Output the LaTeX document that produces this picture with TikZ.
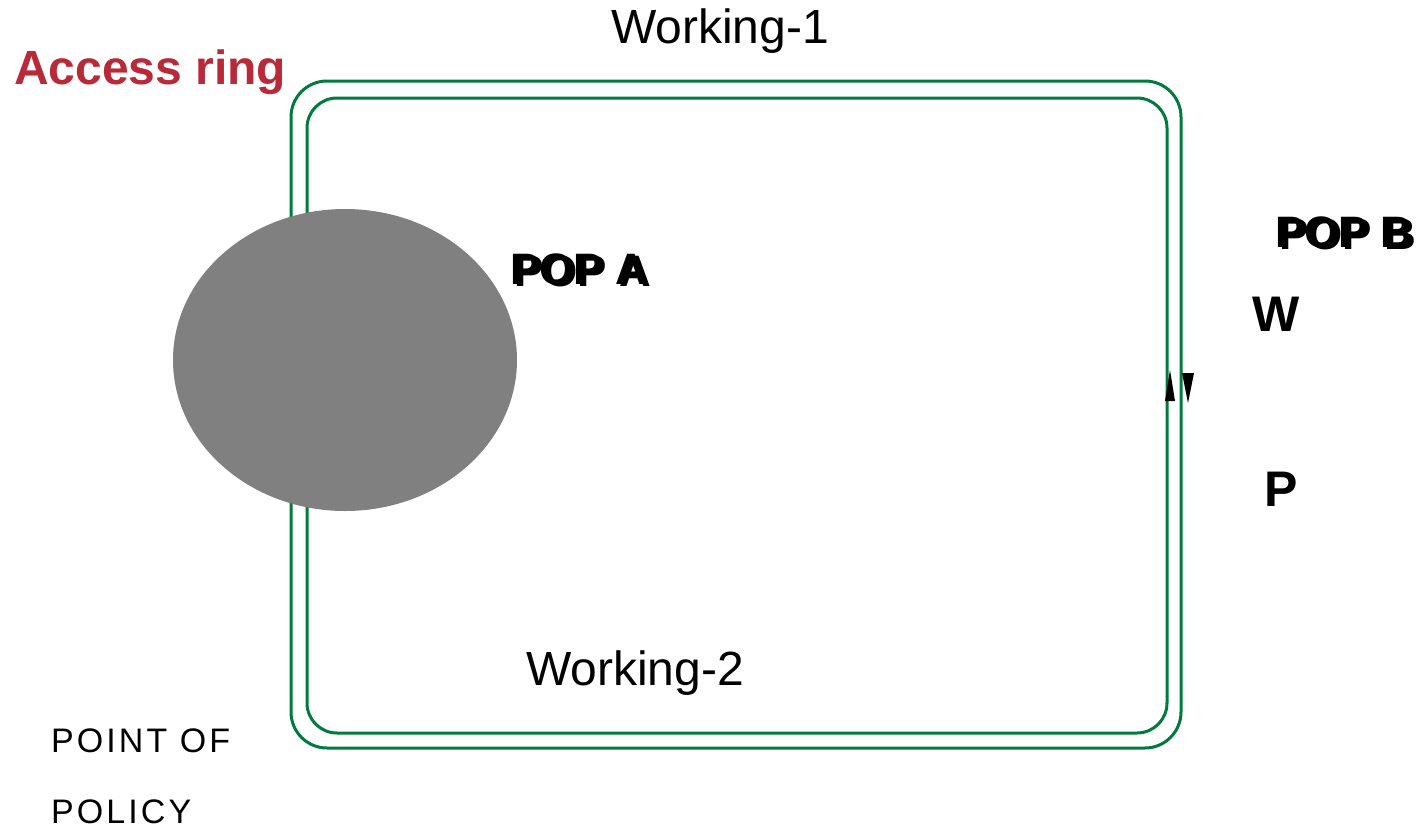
\documentclass[tikz,border=0pt]{standalone}
\usepackage{fontspec}
\setmainfont{Liberation Sans}
\definecolor{ringgreen}{RGB}{0,122,61}
\definecolor{accessred}{RGB}{184,42,58}
\definecolor{popgray}{RGB}{128,128,128}
\begin{document}
\begin{tikzpicture}[x=1pt,y=-1pt,
  ring/.style={draw=ringgreen,line width=3pt},
  lbl/.style={inner sep=0pt,font=\fontsize{48}{56}\selectfont},
  boldlbl/.style={inner sep=0pt,font=\fontsize{44}{52}\selectfont\bfseries},
  sidelbl/.style={inner sep=0pt,anchor=west,font=\fontsize{34}{40}\selectfont\addfontfeatures{LetterSpace=9}},
  tip/.style={fill=black,draw=none}]
\useasboundingbox (0,0) rectangle (1428,828);
% the two fibre rings
\draw[ring,rounded corners=36pt] (291,81) rectangle (1181,748);
\draw[ring,rounded corners=30pt] (307,98) rectangle (1167,733);
% point of presence A
\fill[popgray] (345,360) ellipse [x radius=172, y radius=151];
% direction of traffic on the two rings
\fill[tip] (1170,370) -- (1175,401) -- (1165,401) -- cycle;
\fill[tip] (1182,373) -- (1194,373) -- (1188,403) -- cycle;
% labels
\node[lbl] (w1) at (720,31) {Working-1};
\node[lbl] (w2) at (635,673) {Working-2};
\node[inner sep=0pt,anchor=west,text=accessred,font=\fontsize{48}{56}\selectfont\bfseries] (acc) at (14,72) {Access ring};
\node[boldlbl,anchor=west] (popa2) at (514,271) {POP A};
\node[boldlbl,anchor=west] (popa) at (510,269) {POP A};
\node[boldlbl,anchor=west] (popb2) at (1279,234) {POP B};
\node[boldlbl,anchor=west] (popb) at (1275,232) {POP B};
\node[inner sep=0pt,font=\fontsize{50}{58}\selectfont\bfseries] (wl) at (1276,314) {W};
\node[inner sep=0pt,font=\fontsize{50}{58}\selectfont\bfseries] (pl) at (1281,489) {P};
\node[sidelbl] (pt1) at (51,741) {POINT OF};
\node[sidelbl] (pt2) at (51,812) {POLICY};
\end{tikzpicture}
\end{document}
